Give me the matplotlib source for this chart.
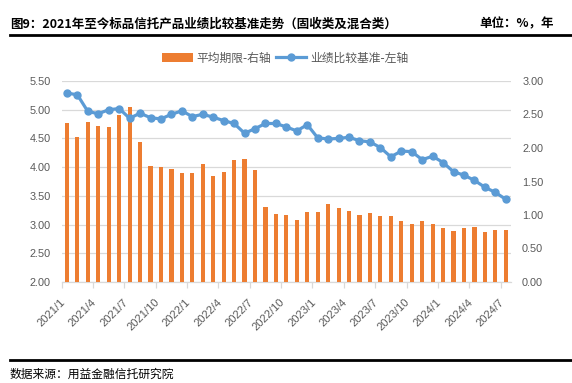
import matplotlib
matplotlib.use("Agg")
import matplotlib.pyplot as plt
from matplotlib.lines import Line2D
from matplotlib.patches import Patch

plt.rcParams['font.family'] = ['Noto Sans CJK SC', 'DejaVu Sans']

# ---- data ----
months = [f"{y}/{m}" for y in (2021, 2022, 2023, 2024) for m in range(1, 13)][:43]
benchmark = [5.29, 5.26, 4.97, 4.93, 5.00, 5.02, 4.85, 4.94, 4.86, 4.84,
             4.92, 4.98, 4.88, 4.92, 4.87, 4.81, 4.76, 4.59, 4.67, 4.76,
             4.76, 4.70, 4.63, 4.74, 4.51, 4.49, 4.50, 4.52, 4.46, 4.44,
             4.34, 4.18, 4.28, 4.27, 4.13, 4.19, 4.08, 3.92, 3.86, 3.77,
             3.65, 3.56, 3.44]
duration = [2.38, 2.16, 2.39, 2.33, 2.31, 2.49, 2.61, 2.09, 1.73, 1.72,
            1.69, 1.63, 1.63, 1.76, 1.58, 1.64, 1.82, 1.84, 1.67, 1.12,
            1.01, 1.00, 0.93, 1.04, 1.04, 1.16, 1.10, 1.06, 1.00, 1.03,
            0.99, 0.99, 0.91, 0.87, 0.91, 0.87, 0.81, 0.76, 0.81, 0.82,
            0.75, 0.78, 0.78]
left_ticks = [2.0, 2.5, 3.0, 3.5, 4.0, 4.5, 5.0, 5.5]
right_ticks = [0.0, 0.5, 1.0, 1.5, 2.0, 2.5, 3.0]

title = "图9：2021年至今标品信托产品业绩比较基准走势（固收类及混合类）"
unit = "单位：%，年"
source = "数据来源：用益金融信托研究院"
bar_label = "平均期限-右轴"
line_label = "业绩比较基准-左轴"

BLUE = "#5B9BD5"
ORANGE = "#ED7D31"
GRID = "#D9D9D9"
TXT = "#595959"

W, H = 572, 383
fig = plt.figure(figsize=(W / 100, H / 100), dpi=100)

rect = [61.7 / W, 1 - 282 / H, (511 - 61.7) / W, (282 - 81) / H]
x = list(range(len(months)))

# grid / left axis
ax_g = fig.add_axes(rect)
ax_g.set_ylim(2.0, 5.5)
ax_g.set_yticks(left_ticks)
ax_g.set_yticklabels([f"{v:.2f}" for v in left_ticks])
ax_g.grid(axis='y', color=GRID, linewidth=0.9)
ax_g.set_axisbelow(True)
ax_g.set_xlim(-0.5, len(months) - 0.5)

# bars on right axis
ax_r = fig.add_axes(rect, sharex=ax_g)
ax_r.patch.set_visible(False)
ax_r.bar(x, duration, width=0.4, color=ORANGE, zorder=2)
ax_r.set_ylim(0, 3.0)
ax_r.yaxis.tick_right()
ax_r.set_yticks(right_ticks)
ax_r.set_yticklabels([f"{v:.2f}" for v in right_ticks])

# line on left scale
ax_l = fig.add_axes(rect, sharex=ax_g)
ax_l.patch.set_visible(False)
ax_l.plot(x, benchmark, color=BLUE, linewidth=2.3, marker='o',
          markersize=5, markerfacecolor=BLUE, markeredgecolor=BLUE, zorder=3)
ax_l.set_ylim(2.0, 5.5)
ax_l.set_yticks([])
ax_l.tick_params(axis='x', which='both', bottom=False, labelbottom=False)

for a in (ax_g, ax_r, ax_l):
    for s in a.spines.values():
        s.set_visible(False)
ax_g.spines['bottom'].set_visible(True)
ax_g.spines['bottom'].set_color(GRID)
ax_g.spines['bottom'].set_linewidth(0.9)

for a in (ax_g, ax_r):
    a.tick_params(axis='y', length=0, labelsize=7.8, labelcolor=TXT, pad=8)
    for lab in a.get_yticklabels():
        lab.set_fontfamily(['Liberation Sans', 'DejaVu Sans'])

# x ticks: boundaries as major ticks (marks), labels at category centers
ax_g.set_xticks([i - 0.5 for i in range(0, len(months), 3)])
ax_g.tick_params(axis='x', which='major', length=4, color=GRID, width=0.9,
                 labelbottom=False)
ax_g.set_xticks(list(range(0, len(months), 3)), minor=True)
ax_g.set_xticklabels([months[i] for i in range(0, len(months), 3)], minor=True,
                     rotation=45, ha='right', va='top',
                     fontsize=8, color=TXT, family=['Liberation Sans', 'DejaVu Sans'])
ax_g.tick_params(axis='x', which='minor', length=0, pad=11)
ax_r.tick_params(axis='x', which='both', bottom=False, labelbottom=False)

# header / footer
fig.text(10 / W, 1 - 24 / H, title, fontsize=9, fontweight='bold', color='black',
         ha='left', va='center')
fig.text(554 / W, 1 - 24 / H, unit, fontsize=9, fontweight='bold', color='black',
         ha='right', va='center')
fig.add_artist(Line2D([10 / W, 571 / W], [1 - 35 / H, 1 - 35 / H], color='black',
                      linewidth=2.0, transform=fig.transFigure))
fig.add_artist(Line2D([10 / W, 571 / W], [1 - 360 / H, 1 - 360 / H], color='black',
                      linewidth=2.0, transform=fig.transFigure))
fig.text(10 / W, 1 - 374 / H, source, fontsize=8.5, color='black',
         ha='left', va='center')

handles = [Patch(facecolor=ORANGE, edgecolor='none'),
           Line2D([0], [0], color=BLUE, linewidth=2.3, marker='o', markersize=5)]
fig.legend(handles, [bar_label, line_label], loc='center',
           bbox_to_anchor=(285 / W, 1 - 58 / H), ncol=2, frameon=False,
           fontsize=8.5, labelcolor=TXT, handlelength=2.6, handleheight=0.8,
           columnspacing=0.4, handletextpad=0.3)

fig.savefig("out.png", dpi=100)
